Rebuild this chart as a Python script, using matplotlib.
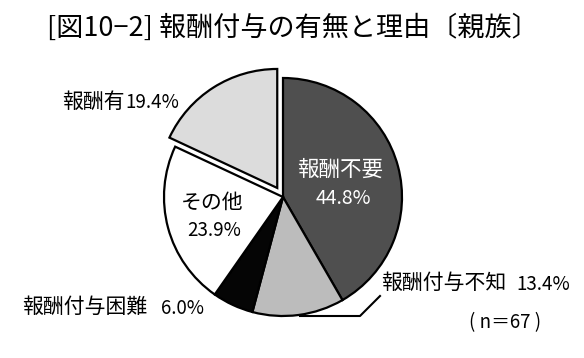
import matplotlib
matplotlib.use("Agg")
import matplotlib.pyplot as plt
from matplotlib.lines import Line2D

plt.rcParams['font.family'] = ['Noto Sans CJK JP', 'DejaVu Sans']

title = "[図10−2] 報酬付与の有無と理由〔親族〕"
categories = ["報酬不要", "報酬付与不知", "報酬付与困難", "その他", "報酬有"]
values = [44.8, 13.4, 6.0, 23.9, 19.4]
colors = ["#4f4f4f", "#bcbcbc", "#050505", "#ffffff", "#dcdcdc"]
explode = [0, 0, 0, 0, 0.09]
n_label = "( n＝67 )"

W, H = 584, 358
fig = plt.figure(figsize=(W / 100, H / 100), dpi=100)
fig.patch.set_facecolor("white")

# pie geometry in pixels
cx, cy, R = 283, 197, 119
ax = fig.add_axes([0, 0, 1, 1])
ax.pie(values, colors=colors, explode=explode, startangle=90, counterclock=False,
       radius=1, center=(0, 0), frame=True,
       wedgeprops=dict(edgecolor="black", linewidth=1.6))
ax.set_aspect("equal")
ax.axis("off")
ax.set_xlim(-cx / R, (W - cx) / R)
ax.set_ylim(-(H - cy) / R, cy / R)


def ft(x, y, s, **kw):
    fig.text(x / W, 1 - y / H, s, **kw)


ft(293, 28, title, fontsize=19.5, ha="center", va="center")

ft(340, 170, categories[0], fontsize=15.5, color="white", ha="center", va="center")
ft(343, 198, f"{values[0]:.1f}%", fontsize=14, color="white", ha="center", va="center")

ft(212, 203, categories[3], fontsize=15, color="black", ha="center", va="center")
ft(214, 230, f"{values[3]:.1f}%", fontsize=13.5, color="black", ha="center", va="center")

ft(62, 102, categories[4], fontsize=15, ha="left", va="center")
ft(179, 103, f"{values[4]:.1f}%", fontsize=13.5, ha="right", va="center")

ft(22, 307, categories[2], fontsize=15, ha="left", va="center")
ft(204, 308, f"{values[2]:.1f}%", fontsize=13.5, ha="right", va="center")

ft(381, 283, categories[1], fontsize=15, ha="left", va="center")
ft(570, 284, f"{values[1]:.1f}%", fontsize=13.5, ha="right", va="center")

ft(505, 323, n_label, fontsize=13.5, ha="center", va="center")

# leader line for 報酬付与不知
lx = [300 / W, 360 / W, 380 / W]
ly = [1 - 316 / H, 1 - 316 / H, 1 - 296 / H]
fig.add_artist(Line2D(lx, ly, color="black", linewidth=1.5, transform=fig.transFigure))

fig.savefig("out.png", dpi=100)
